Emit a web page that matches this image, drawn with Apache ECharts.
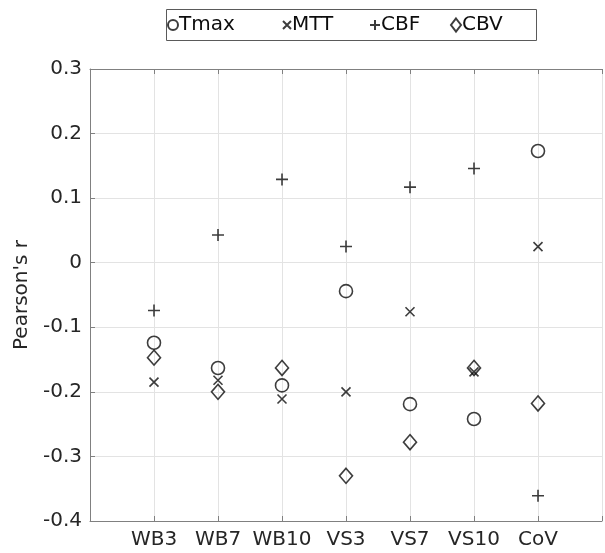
<!DOCTYPE html>
<html>
<head>
<meta charset="utf-8">
<script src="https://cdn.jsdelivr.net/npm/echarts@6/dist/echarts.min.js"></script>
<style>
  html, body { margin: 0; padding: 0; background: #fff; }
  #chart { width: 605px; height: 553px; }
</style>
</head>
<body>
<div id="chart"></div>
<script>
// categories on the x axis (placed at 1..7, axis runs 0..8)
const categories = ["WB3", "WB7", "WB10", "VS3", "VS7", "VS10", "CoV"];
// Pearson's r per measure
const tmax = [-0.124, -0.163, -0.190, -0.044, -0.219, -0.242, 0.173];
const mtt = [-0.185, -0.182, -0.211, -0.200, -0.076, -0.169, 0.025];
const cbf = [-0.074, 0.043, 0.129, 0.025, 0.117, 0.146, -0.361];
const cbv = [-0.147, -0.200, -0.163, -0.330, -0.278, -0.163, -0.218];

const font = "DejaVu Sans";
const fs = 20;
const axisGray = "#808080";
const labelColor = "#262626";
const ink = "#0d0d0d";

const toPoints = (vals) => vals.map((v, i) => [i + 1, v]);

const markStyle = {
  color: "rgba(0,0,0,0)",
  borderColor: ink,
  borderWidth: 1.6,
};

const seriesDefs = [
  { name: "Tmax", data: tmax, symbol: "circle", size: 13, icon: [10, 10] },
  { name: "MTT", data: mtt, symbol: "path://M0,0L10,10M0,10L10,0", size: 9, icon: [8, 8] },
  { name: "CBF", data: cbf, symbol: "path://M5,0L5,10M0,5L10,5", size: 12, icon: [10, 10] },
  { name: "CBV", data: cbv, symbol: "diamond", size: [13, 15], icon: [10, 13] },
];

// legend item positions (icon left edge), one legend per entry
const legendLefts = [167, 282, 369, 450];

const chart = echarts.init(document.getElementById("chart"));

const option = {
  animation: false,
  textStyle: { fontFamily: font },
  grid: { left: 90, top: 69, width: 524, height: 452 },
  graphic: [
    {
      type: "rect",
      shape: { x: 166.5, y: 9.5, width: 370, height: 31 },
      style: { fill: "#fff", stroke: "#5a5a5a", lineWidth: 1 },
      z: 0,
    },
  ],
  legend: seriesDefs.map((s, i) => ({
    data: [s.name],
    left: legendLefts[i],
    top: 14,
    padding: 0,
    selectedMode: false,
    itemWidth: s.icon[0],
    itemHeight: s.icon[1],
    itemGap: 0,
    textStyle: {
      fontFamily: font,
      fontSize: fs,
      color: ink,
      lineHeight: 22,
      padding: [0, 0, 0, -4],
    },
    z: 5,
  })),
  xAxis: [
    {
      type: "value",
      min: 0,
      max: 8,
      interval: 1,
      position: "bottom",
      axisLine: { show: true, onZero: false, lineStyle: { color: axisGray, width: 1 } },
      axisTick: { show: true, inside: true, length: 5, lineStyle: { color: axisGray } },
      axisLabel: {
        fontFamily: font,
        fontSize: fs,
        color: labelColor,
        margin: 9,
        formatter: (v) => categories[v - 1] || "",
      },
      splitLine: { show: true, lineStyle: { color: "#e3e3e3", width: 1 } },
    },
    {
      type: "value",
      min: 0,
      max: 8,
      interval: 1,
      position: "top",
      axisLine: { show: true, onZero: false, lineStyle: { color: axisGray, width: 1 } },
      axisTick: { show: true, inside: true, length: 5, lineStyle: { color: axisGray } },
      axisLabel: { show: false },
      splitLine: { show: false },
    },
  ],
  yAxis: {
    type: "value",
    min: -0.4,
    max: 0.3,
    interval: 0.1,
    name: "Pearson's r",
    nameLocation: "middle",
    nameGap: 56,
    nameTextStyle: { fontFamily: font, fontSize: fs, color: labelColor },
    axisLine: { show: true, onZero: false, lineStyle: { color: axisGray, width: 1 } },
    axisTick: { show: true, inside: true, length: 5, lineStyle: { color: axisGray } },
    axisLabel: {
      fontFamily: font,
      fontSize: fs,
      color: labelColor,
      margin: 8,
      formatter: (v) => String(Math.round(v * 10) / 10),
    },
    splitLine: { show: true, lineStyle: { color: "#e3e3e3", width: 1 } },
  },
  series: seriesDefs.map((s) => ({
    name: s.name,
    type: "scatter",
    symbol: s.symbol,
    symbolSize: s.size,
    itemStyle: markStyle,
    data: toPoints(s.data),
    z: 3,
  })),
};

chart.setOption(option);
</script>
</body>
</html>
